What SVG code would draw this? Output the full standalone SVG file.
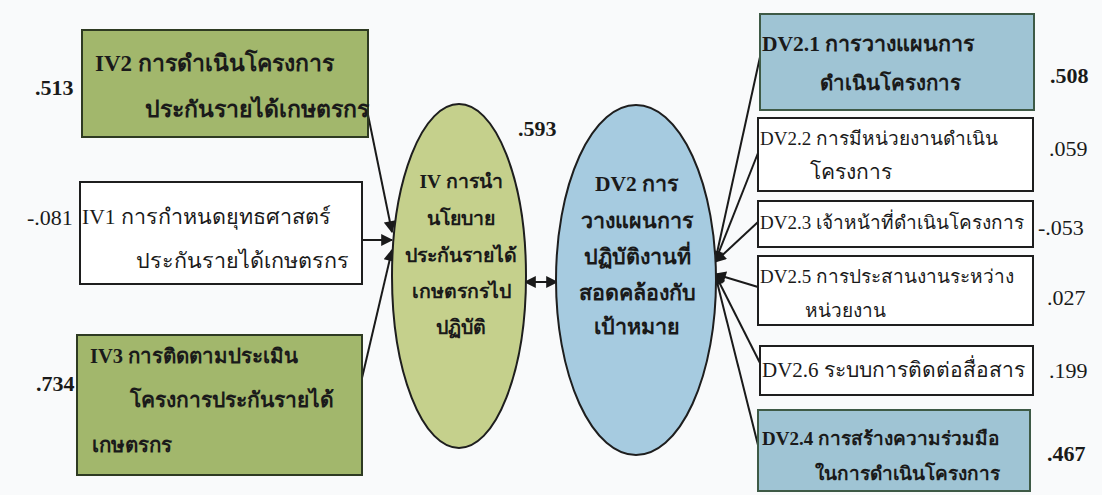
<svg xmlns="http://www.w3.org/2000/svg" width="1102" height="495" viewBox="0 0 1102 495">
<style>
text{font-family:"Liberation Serif","Noto Sans",serif;font-size:19px;fill:#1a1a1a}
.b{font-weight:bold}
.n{font-size:22px}
.ec{text-anchor:middle;font-weight:bold;font-size:19.5px}
.ed{text-anchor:middle;font-weight:bold;font-size:21.5px}
.green{fill:#a2b76c;stroke:#2e3a22;stroke-width:2}
.white{fill:#ffffff;stroke:#1e1e1e;stroke-width:2}
.blue{fill:#9fc4d4;stroke:#3e5a46;stroke-width:2}
.conn{stroke:#1a1a1a;stroke-width:2;fill:none}
</style>
<defs>
<marker id="ahs" viewBox="0 0 10 10" refX="9" refY="5" markerWidth="15" markerHeight="12" orient="auto-start-reverse" markerUnits="userSpaceOnUse">
<path d="M0,0 L10,5 L0,10 z" fill="#1a1a1a"/>
</marker>
</defs>
<rect width="1102" height="495" fill="#f9fafb"/>

<g id="connectors">
<line class="conn" x1="367" y1="110" x2="392" y2="232" marker-end="url(#ahs)"/>
<line class="conn" x1="363" y1="240" x2="392" y2="240" marker-end="url(#ahs)"/>
<line class="conn" x1="362" y1="378" x2="392" y2="250" marker-end="url(#ahs)"/>
<line class="conn" x1="525" y1="282" x2="557" y2="282" marker-start="url(#ahs)" marker-end="url(#ahs)"/>
<line class="conn" x1="760" y1="57" x2="715" y2="262" marker-end="url(#ahs)"/>
<line class="conn" x1="758" y1="153" x2="715" y2="262" marker-end="url(#ahs)"/>
<line class="conn" x1="758" y1="222" x2="715" y2="262" marker-end="url(#ahs)"/>
<line class="conn" x1="758" y1="287" x2="715" y2="274" marker-end="url(#ahs)"/>
<line class="conn" x1="760" y1="363" x2="715" y2="274" marker-end="url(#ahs)"/>
<line class="conn" x1="760" y1="453" x2="715" y2="274" marker-end="url(#ahs)"/>
</g>

<g id="IV2">
<rect class="green" x="82" y="30" width="286" height="107"/>
<text class="b" x="95" y="71" style="font-size:23px">IV2 การดำเนินโครงการ</text>
<text class="b" x="145" y="117" style="font-size:23px">ประกันรายได้เกษตรกร</text>
<text class="b n" x="35" y="95">.513</text>
</g>
<g id="IV1">
<rect class="white" x="80" y="182" width="282" height="102"/>
<text x="82" y="224" style="font-size:21.5px">IV1 การกำหนดยุทธศาสตร์</text>
<text x="136" y="268" style="font-size:21.5px">ประกันรายได้เกษตรกร</text>
<text class="n" x="27" y="225">-.081</text>
</g>
<g id="IV3">
<rect class="green" x="77" y="335" width="285" height="140"/>
<text class="b" x="90" y="363" style="font-size:20.5px">IV3 การติดตามประเมิน</text>
<text class="b" x="130" y="407" style="font-size:21px">โครงการประกันรายได้</text>
<text class="b" x="92" y="452" style="font-size:20.5px">เกษตรกร</text>
<text class="b n" x="36" y="391">.734</text>
</g>
<g id="IV">
<ellipse cx="459" cy="276" rx="67" ry="172" fill="#c5d08c" stroke="#1e1e1e" stroke-width="2"/>
<text class="ec" x="461" y="188">IV การนำ</text>
<text class="ec" x="461" y="225">นโยบาย</text>
<text class="ec" x="461" y="262">ประกันรายได้</text>
<text class="ec" x="461" y="298">เกษตรกรไป</text>
<text class="ec" x="461" y="334">ปฏิบัติ</text>
<text class="b n" x="518" y="136">.593</text>
</g>
<g id="DV2">
<ellipse cx="636" cy="280" rx="80" ry="175" fill="#a6cbe0" stroke="#1e1e1e" stroke-width="2"/>
<text class="ed" x="637" y="191">DV2 การ</text>
<text class="ed" x="637" y="228">วางแผนการ</text>
<text class="ed" x="637" y="264">ปฏิบัติงานที่</text>
<text class="ed" x="637" y="300">สอดคล้องกับ</text>
<text class="ed" x="637" y="334">เป้าหมาย</text>
</g>
<g id="DV2.1">
<rect class="blue" x="760" y="14" width="274" height="96"/>
<text class="b" x="762" y="51" style="font-size:21.5px">DV2.1 การวางแผนการ</text>
<text class="b" x="820" y="90" style="font-size:20.5px">ดำเนินโครงการ</text>
<text class="b n" x="1050" y="83">.508</text>
</g>
<g id="DV2.2">
<rect class="white" x="758" y="118" width="275" height="73"/>
<text x="760" y="145">DV2.2 การมีหน่วยงานดำเนิน</text>
<text x="810" y="179" style="font-size:21px">โครงการ</text>
<text class="n" x="1049" y="156">.059</text>
</g>
<g id="DV2.3">
<rect class="white" x="758" y="201" width="275" height="46"/>
<text x="760" y="229">DV2.3 เจ้าหน้าที่ดำเนินโครงการ</text>
<text class="n" x="1038" y="235">-.053</text>
</g>
<g id="DV2.5">
<rect class="white" x="758" y="256" width="275" height="69"/>
<text x="760" y="283">DV2.5 การประสานงานระหว่าง</text>
<text x="805" y="317">หน่วยงาน</text>
<text class="n" x="1047" y="305">.027</text>
</g>
<g id="DV2.6">
<rect class="white" x="760" y="346" width="273" height="49"/>
<text x="762" y="377" style="font-size:21px">DV2.6 ระบบการติดต่อสื่อสาร</text>
<text class="n" x="1049" y="378">.199</text>
</g>
<g id="DV2.4">
<rect class="blue" x="758" y="410" width="272" height="81"/>
<text class="b" x="762" y="445">DV2.4 การสร้างความร่วมมือ</text>
<text class="b" x="815" y="480">ในการดำเนินโครงการ</text>
<text class="b n" x="1047" y="461">.467</text>
</g>
</svg>
